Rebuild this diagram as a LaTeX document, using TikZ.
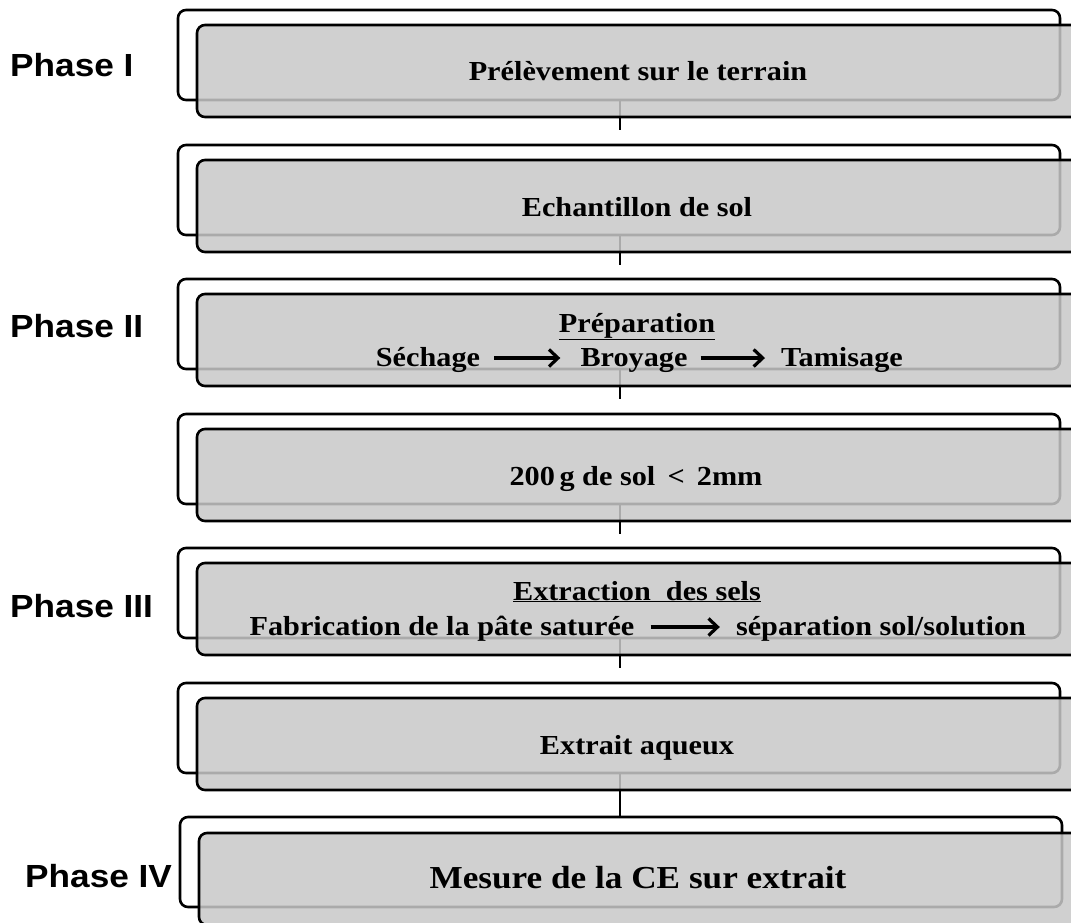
\documentclass[tikz,border=0pt]{standalone}
\usepackage{fontspec}
\setmainfont[FakeStretch=1.1]{Liberation Serif}
\newfontfamily\phasefont[FakeStretch=1.1]{Liberation Sans}
\usetikzlibrary{arrows.meta}
\definecolor{boxgray}{HTML}{C8C8C8}
\begin{document}
\begin{tikzpicture}[x=1pt,y=-1pt,
  backbox/.style={draw=black,line width=2.6pt,rounded corners=8pt,fill=white,minimum width=882pt,minimum height=90pt,inner sep=0pt},
  frontbox/.style={draw=black,line width=2.6pt,rounded corners=8pt,fill=boxgray,fill opacity=0.85,draw opacity=1,text opacity=1,minimum width=884pt,minimum height=92pt,inner sep=0pt},
  lbl/.style={font=\fontsize{27.5}{30}\selectfont\bfseries,inner sep=0pt,anchor=base,text=black},
  biglbl/.style={font=\fontsize{32}{34}\selectfont\bfseries,inner sep=0pt,anchor=base,text=black},
  phase/.style={font=\phasefont\fontsize{32}{34}\selectfont\bfseries,anchor=base west,inner sep=0pt},
  link/.style={line width=2.6pt,draw=black},
  flow/.style={line width=3.6pt,-{Straight Barb[length=9pt,width=17pt,line width=3.2pt]}}
]
\useasboundingbox (0,0) rectangle (1071,922);
\clip (0,0) rectangle (1071,922);
% back boxes
\node[backbox] (b1) at (619,55) {};
\node[backbox] (b2) at (619,190) {};
\node[backbox] (b3) at (619,324) {};
\node[backbox] (b4) at (619,459) {};
\node[backbox] (b5) at (619,593) {};
\node[backbox] (b6) at (619,728) {};
\node[backbox] (b7) at (621,862) {};
% connectors
\coordinate (c1) at (620,130);
\coordinate (c2) at (620,265);
\coordinate (c3) at (620,399);
\coordinate (c4) at (620,534);
\coordinate (c5) at (620,668);
\coordinate (c6) at (620,790);
\draw[link] (b1.south -| c1) -- (c1);
\draw[link] (b2.south -| c2) -- (c2);
\draw[link] (b3.south -| c3) -- (c3);
\draw[link] (b4.south -| c4) -- (c4);
\draw[link] (b5.south -| c5) -- (c5);
\draw[link] (b6.south -| c6) -- (b7.north -| c6);
% front boxes
\node[frontbox] (f1) at (639,71) {};
\node[frontbox] (f2) at (639,206) {};
\node[frontbox] (f3) at (639,340) {};
\node[frontbox] (f4) at (639,475) {};
\node[frontbox] (f5) at (639,609) {};
\node[frontbox] (f6) at (639,744) {};
\node[frontbox] (f7) at (641,879) {};
% texts
\node[lbl] (t1) at (638,80) {Prélèvement sur le terrain};
\node[lbl] (t2) at (637,216) {Echantillon de sol};
\node[lbl] (t3) at (637,332) {\underline{Préparation}};
\node[lbl] (sech) at (428,366) {Séchage};
\node[lbl] (broy) at (634,366) {Broyage};
\node[lbl] (tam) at (842,366) {Tamisage};
\draw[flow,shorten <=14pt,shorten >=20pt] ([yshift=8pt]sech.base east) -- ([yshift=8pt]broy.base west);
\draw[flow,shorten <=13pt,shorten >=16pt] ([yshift=8pt]broy.base east) -- ([yshift=8pt]tam.base west);
\node[lbl] (t4) at (636,485) {200\,g de sol \,<\, 2mm};
\node[lbl] (t5) at (637,600) {\underline{Extraction\ \ des sels}};
\node[lbl] (fab) at (442,635) {Fabrication de la pâte saturée};
\node[lbl] (sep) at (881,635) {séparation sol/solution};
\draw[flow,shorten <=16pt,shorten >=16pt] ([yshift=8pt]fab.base east) -- ([yshift=8pt]sep.base west);
\node[lbl] (t6) at (637,754) {Extrait aqueux};
\node[biglbl] (t7) at (638,888) {Mesure de la CE sur extrait};
% phase labels
\node[phase] (p1) at (10,76) {Phase I};
\node[phase] (p2) at (10,337) {Phase II};
\node[phase] (p3) at (10,617) {Phase III};
\node[phase] (p4) at (25,887) {Phase IV};
\end{tikzpicture}
\end{document}
